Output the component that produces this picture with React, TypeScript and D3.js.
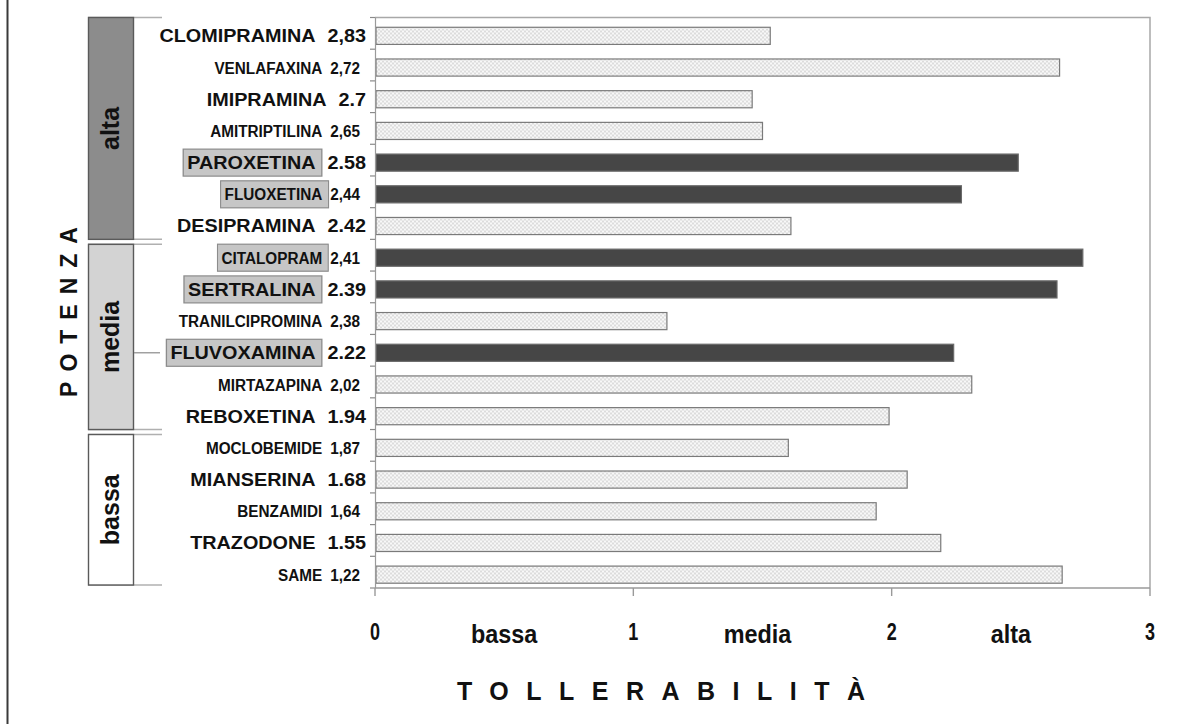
import React, { useEffect, useRef } from 'react';
import * as d3 from 'd3';

// drugs, top to bottom, with the potency value printed next to the name
const drugs = [
  'CLOMIPRAMINA', 'VENLAFAXINA', 'IMIPRAMINA', 'AMITRIPTILINA', 'PAROXETINA', 'FLUOXETINA',
  'DESIPRAMINA', 'CITALOPRAM', 'SERTRALINA', 'TRANILCIPROMINA', 'FLUVOXAMINA', 'MIRTAZAPINA',
  'REBOXETINA', 'MOCLOBEMIDE', 'MIANSERINA', 'BENZAMIDI', 'TRAZODONE', 'SAME',
];
const potency = [
  '2,83', '2,72', '2.7', '2,65', '2.58', '2,44', '2.42', '2,41', '2.39', '2,38', '2.22', '2,02',
  '1.94', '1,87', '1.68', '1,64', '1.55', '1,22',
];
// tollerabilità (bar length)
const tolerability = [
  1.53, 2.65, 1.46, 1.5, 2.49, 2.27, 1.61, 2.74, 2.64, 1.13, 2.24, 2.31, 1.99, 1.6, 2.06, 1.94, 2.19, 2.66,
];
// SSRI: dark bars + grey label box
const ssri = ['PAROXETINA', 'FLUOXETINA', 'CITALOPRAM', 'SERTRALINA', 'FLUVOXAMINA'];
// names printed in the wide bold face (the others are narrow)
const wideLabels = [
  'CLOMIPRAMINA', 'IMIPRAMINA', 'PAROXETINA', 'DESIPRAMINA', 'SERTRALINA', 'FLUVOXAMINA',
  'REBOXETINA', 'MIANSERINA', 'TRAZODONE',
];
const potencyGroups = ['alta', 'media', 'bassa'];
const groupSizes = [7, 6, 5];
const xTicks = [0, 1, 2, 3];
const toleranceLabels = ['bassa', 'media', 'alta'];

const W = 1190;
const H = 724;
const FONT = "'Liberation Sans', Arial, Helvetica, sans-serif";

export default function App() {
  const svgRef = useRef<SVGSVGElement>(null);

  useEffect(() => {
    if (!svgRef.current) return;
    const svg = d3.select(svgRef.current);
    svg.selectAll('*').remove();

    const x = d3.scaleLinear().domain([0, 3]).range([375, 1150]);
    const y = d3.scaleBand<string>()
      .domain(drugs)
      .range([17.5, 588])
      .paddingInner(0.46)
      .paddingOuter(0.23);
    const step = y.step();
    const rowEdge = (k: number) => 17.5 + k * step;

    const defs = svg.append('defs');
    const pat = defs.append('pattern')
      .attr('id', 'checker')
      .attr('width', 4)
      .attr('height', 4)
      .attr('patternUnits', 'userSpaceOnUse');
    pat.append('rect').attr('width', 4).attr('height', 4).attr('fill', '#f8f8f8');
    pat.append('rect').attr('width', 2).attr('height', 2).attr('fill', '#dcdcdc');
    pat.append('rect').attr('x', 2).attr('y', 2).attr('width', 2).attr('height', 2).attr('fill', '#dcdcdc');

    svg.append('rect').attr('width', W).attr('height', H).attr('fill', '#ffffff');

    // page frame on the left
    svg.append('line')
      .attr('x1', 7.5).attr('x2', 7.5).attr('y1', 0).attr('y2', H)
      .attr('stroke', '#3a3a3a').attr('stroke-width', 2);

    // plot frame (top + right)
    svg.append('path')
      .attr('d', `M${x(0)},17.5H${x(3)}V588`)
      .attr('fill', 'none')
      .attr('stroke', '#a8a8a8')
      .attr('stroke-width', 1.5);

    // bars
    const bars = svg.append('g').attr('transform', 'translate(0,2.5)');
    bars.selectAll('rect')
      .data(drugs)
      .enter()
      .append('rect')
      .attr('x', x(0) + 1)
      .attr('y', d => y(d)!)
      .attr('width', (d, i) => x(tolerability[i]) - x(0) - 1)
      .attr('height', y.bandwidth())
      .attr('fill', d => (ssri.includes(d) ? '#464646' : 'url(#checker)'))
      .attr('stroke', d => (ssri.includes(d) ? '#6a6a6a' : '#7a7a7a'))
      .attr('stroke-width', 1.2);

    // left axis with ticks between categories
    svg.append('line')
      .attr('x1', x(0) + 0.5).attr('x2', x(0) + 0.5)
      .attr('y1', 17.5).attr('y2', 588)
      .attr('stroke', '#9a9a9a').attr('stroke-width', 1.2);
    svg.append('g')
      .selectAll('line')
      .data(d3.range(drugs.length + 1))
      .enter()
      .append('line')
      .attr('x1', x(0) - 5).attr('x2', x(0))
      .attr('y1', k => rowEdge(k)).attr('y2', k => rowEdge(k))
      .attr('stroke', '#8a8a8a').attr('stroke-width', 1.2);

    // bottom axis
    svg.append('line')
      .attr('x1', x(0)).attr('x2', x(3))
      .attr('y1', 588).attr('y2', 588)
      .attr('stroke', '#9a9a9a').attr('stroke-width', 1.6);
    const xt = svg.append('g');
    xt.selectAll('line')
      .data(xTicks)
      .enter()
      .append('line')
      .attr('x1', d => x(d)).attr('x2', d => x(d))
      .attr('y1', 588).attr('y2', 596)
      .attr('stroke', '#9a9a9a').attr('stroke-width', 1.4);
    xt.selectAll('text')
      .data(xTicks)
      .enter()
      .append('text')
      .attr('transform', d => `translate(${x(d)},640) scale(0.75,1)`)
      .attr('text-anchor', 'middle')
      .attr('font-family', FONT)
      .attr('font-weight', 'bold')
      .attr('font-size', 24)
      .attr('fill', '#111')
      .text(d => String(d));

    // bassa / media / alta under the axis
    svg.append('g')
      .selectAll('text')
      .data(toleranceLabels)
      .enter()
      .append('text')
      .attr('transform', (d, i) => `translate(${x(i + 0.5) - i * 5},643) scale(0.9,1)`)
      .attr('text-anchor', 'middle')
      .attr('font-family', FONT)
      .attr('font-weight', 'bold')
      .attr('font-size', 26)
      .attr('fill', '#111')
      .text(d => d);

    // axis titles
    const tollLs = 17.5;
    svg.append('text')
      .attr('x', 661 + tollLs / 2)
      .attr('y', 700)
      .attr('text-anchor', 'middle')
      .attr('font-family', FONT)
      .attr('font-weight', 'bold')
      .attr('font-size', 25)
      .attr('letter-spacing', tollLs)
      .attr('fill', '#111')
      .text('TOLLERABILITÀ');

    const potLs = 10;
    svg.append('text')
      .attr('transform', `translate(77,${312 - potLs / 2}) rotate(-90)`)
      .attr('text-anchor', 'middle')
      .attr('font-family', FONT)
      .attr('font-weight', 'bold')
      .attr('font-size', 23)
      .attr('letter-spacing', potLs)
      .attr('fill', '#111')
      .text('POTENZA');

    // potency group boxes on the left
    const groupFill = ['#8c8c8c', '#d3d3d3', '#ffffff'];
    let start = 0;
    const gGroups = svg.append('g');
    potencyGroups.forEach((name, gi) => {
      const end = start + groupSizes[gi];
      const top = rowEdge(start) + (gi === 0 ? 0 : 5);
      const bottom = rowEdge(end) - (gi === potencyGroups.length - 1 ? 3 : 0);
      [top, bottom].forEach(yy => {
        gGroups.append('line')
          .attr('x1', 88).attr('x2', 162)
          .attr('y1', yy).attr('y2', yy)
          .attr('stroke', '#b0b0b0').attr('stroke-width', 1.5);
      });
      gGroups.append('rect')
        .attr('x', 88.5).attr('y', top)
        .attr('width', 45).attr('height', bottom - top)
        .attr('fill', groupFill[gi])
        .attr('stroke', '#5a5a5a').attr('stroke-width', 1.4);
      gGroups.append('text')
        .attr('transform', `translate(119,${(top + bottom) / 2}) rotate(-90)`)
        .attr('text-anchor', 'middle')
        .attr('font-family', FONT)
        .attr('font-weight', 'bold')
        .attr('font-size', 25)
        .attr('fill', '#111')
        .text(name);
      start = end;
    });
    // stray connector that points at FLUVOXAMINA in the original
    const fluvoY = y('FLUVOXAMINA')! + y.bandwidth() / 2 + 2.5;
    gGroups.append('line')
      .attr('x1', 134).attr('x2', 160)
      .attr('y1', fluvoY).attr('y2', fluvoY)
      .attr('stroke', '#8a8a8a').attr('stroke-width', 1.2);

    // drug labels: NAME  value, right aligned against the axis
    const labels = svg.append('g');
    drugs.forEach((name, i) => {
      const wide = wideLabels.includes(name);
      const sx = wide ? 1.1 : 0.9;
      const right = wide ? 366 : 360;
      const size = wide ? 18 : 17;
      const cy = y(name)! + y.bandwidth() / 2 + 2.5;
      const g = labels.append('g').attr('transform', `translate(${right},${cy}) scale(${sx},1)`);
      const val = g.append('text')
        .attr('x', 0)
        .attr('y', size * 0.36)
        .attr('text-anchor', 'end')
        .attr('font-family', FONT)
        .attr('font-weight', 'bold')
        .attr('font-size', size)
        .attr('fill', '#111')
        .text(potency[i]);
      const vw = (val.node() as SVGTextElement).getComputedTextLength();
      const gap = (wide ? 12 : 8) / sx;
      const txt = g.append('text')
        .attr('x', -(vw + gap))
        .attr('y', size * 0.36)
        .attr('text-anchor', 'end')
        .attr('font-family', FONT)
        .attr('font-weight', 'bold')
        .attr('font-size', size)
        .attr('fill', '#111')
        .text(name);
      if (ssri.includes(name)) {
        const bb = (txt.node() as SVGTextElement).getBBox();
        g.insert('rect', 'text')
          .attr('x', bb.x - 4 / sx)
          .attr('y', -13.5)
          .attr('width', bb.width + 10 / sx)
          .attr('height', 27)
          .attr('fill', '#c6c6c6')
          .attr('stroke', '#8c8c8c')
          .attr('stroke-width', 1.2);
      }
    });
  }, []);

  return (
    <svg
      ref={svgRef}
      width={W}
      height={H}
      style={{ position: 'absolute', left: 0, top: 0, display: 'block' }}
    />
  );
}
